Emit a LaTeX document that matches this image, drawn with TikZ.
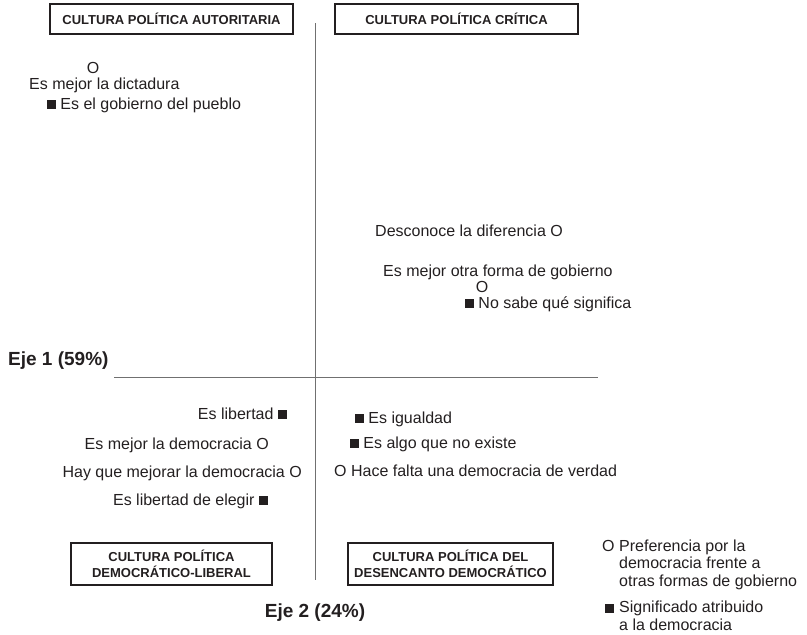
\documentclass[tikz,border=0pt]{standalone}
\usepackage{fontspec}
\setmainfont{Liberation Sans}
\usetikzlibrary{positioning}
\definecolor{tinta}{HTML}{231F20}
\definecolor{gris}{HTML}{707070}
\newcommand{\cuad}{\rule{0.55em}{0.55em}}

\begin{document}
\begin{tikzpicture}[
    x=1pt, y=-1pt,
    box/.style={
        rectangle, draw=tinta, line width=1.3pt, inner sep=0pt,
        minimum width=243pt, minimum height=30pt,
        text centered, text=tinta,
        font=\fontsize{13}{16}\selectfont\bfseries
    },
    box2/.style={box, align=center, minimum width=201pt, minimum height=42pt},
    lbl/.style={inner sep=0pt, text=tinta, font=\fontsize{16}{17.5}\selectfont},
    eje/.style={lbl, font=\fontsize{19}{22}\selectfont\bfseries},
    axis/.style={draw=gris, line width=1.3pt}
]
    \useasboundingbox (0,0) rectangle (807,635);

    % cuadrantes
    \node[box] (aut) at (171.5,19) {CULTURA POLÍTICA AUTORITARIA};
    \node[box] (cri) at (456.5,19) {CULTURA POLÍTICA CRÍTICA};
    \node[box2] (lib) at (171.5,564) {CULTURA POLÍTICA\\DEMOCRÁTICO-LIBERAL};
    \node[box2, minimum width=205pt] (des) at (450.5,564) {CULTURA POLÍTICA DEL\\DESENCANTO DEMOCRÁTICO};

    % ejes
    \coordinate (vtop) at (315.5,23);
    \coordinate (vbot) at (315.5,580);
    \coordinate (hizq) at (114,377.7);
    \coordinate (hder) at (598,377.7);
    \draw[axis] (vtop) -- (vbot);
    \draw[axis] (hizq) -- (hder);
    \node[eje, anchor=base west] (eje1) at (8,365.5) {Eje 1 (59\%)};
    \node[eje, anchor=base] (eje2) at (315,617) {Eje 2 (24\%)};

    % arriba
    \node[lbl, anchor=base] (o1) at (93,73) {O};
    \node[lbl, anchor=base west] (p1) at (29,89) {Es mejor la dictadura};
    \node[lbl, anchor=base west] (p2) at (47,109) {\cuad\ Es el gobierno del pueblo};
    \node[lbl, anchor=base west] (p3) at (375,236) {Desconoce la diferencia O};
    \node[lbl, anchor=base west] (p4) at (383,276) {Es mejor otra forma de gobierno};
    \node[lbl, anchor=base] (o2) at (482,292) {O};
    \node[lbl, anchor=base west] (p5) at (465,308) {\cuad\ No sabe qué significa};

    % abajo
    \node[lbl, anchor=base east] (p6) at (287,419) {Es libertad \cuad};
    \node[lbl, anchor=base east] (p7) at (269,449) {Es mejor la democracia O};
    \node[lbl, anchor=base east] (p8) at (302,477) {Hay que mejorar la democracia O};
    \node[lbl, anchor=base east] (p9) at (268,505) {Es libertad de elegir \cuad};
    \node[lbl, anchor=base west] (p10) at (355,423) {\cuad\ Es igualdad};
    \node[lbl, anchor=base west] (p11) at (350,448) {\cuad\ Es algo que no existe};
    \node[lbl, anchor=base west] (p12) at (334,476) {O Hace falta una democracia de verdad};

    % leyenda
    \node[lbl, anchor=base west] (mo) at (602,551) {O};
    \node[lbl, anchor=north west, align=left] (ley1) at (619,539.5) {Preferencia por la\\democracia frente a\\otras formas de gobierno};
    \node[lbl, anchor=base west] (mc) at (605,613) {\cuad};
    \node[lbl, anchor=north west, align=left] (ley2) at (619,601) {Significado atribuido\\a la democracia};
\end{tikzpicture}
\end{document}
